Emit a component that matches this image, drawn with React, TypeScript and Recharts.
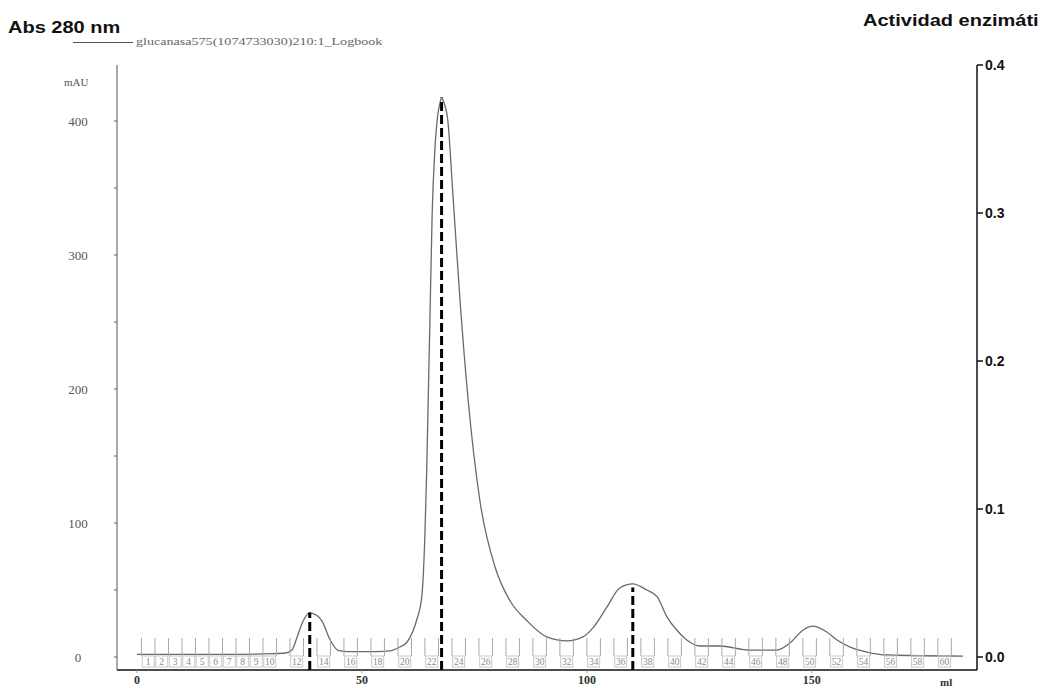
import React from "react";
import { LineChart, Line, XAxis, YAxis } from "recharts";

// elution volume (ml) and absorbance at 280 nm (mAU)
const ELUTION_ML = [
  0, 10, 20, 30, 33, 34.4, 35.6, 36.8, 38.4, 40, 41.1, 42.9, 44.7, 47, 50, 53,
  56.2, 58.4, 60, 61.3, 62.2, 63.3, 64, 64.4, 64.7, 65.1, 65.6, 66.2, 66.8,
  67.3, 67.7, 68.2, 69.1, 70.2, 71.8, 73.6, 76.2, 79.6, 82.9, 86.7, 91.1,
  95.6, 99.1, 101.3, 104.4, 107.3, 110.2, 113.3, 115.6, 117.8, 120, 122.2,
  125.1, 129.6, 136.2, 142.2, 145.1, 148, 150.2, 153.3, 155.6, 158.4, 162.2,
  166.7, 183.6,
];
const ABS_MAU = [
  2, 2, 2, 2.5, 3, 5, 15, 26, 33, 31, 27, 13, 5, 4, 4, 4,
  4.5, 7.5, 11, 19, 28, 45, 92, 140, 188, 250, 330, 378, 403,
  413, 417, 414, 400, 346, 266, 192, 117, 67, 42, 27, 15,
  12, 15, 21.6, 37, 51.5, 54.5, 50, 45, 30, 20, 12.7,
  8.2, 8.2, 5.2, 5.2, 10.4, 20, 23, 18.7, 12.7, 7.5, 3.7,
  1.5, 0.7,
];

// enzyme activity measured in three fractions
const ACT_ML = [38.4, 67.7, 110.2];
const ACT_VALUES = [0.03, 0.378, 0.047];

// fraction collector marks
const FRACTION_LABELS = [
  1, 2, 3, 4, 5, 6, 7, 8, 9, 10, 12, 14, 16, 18, 20, 22, 24, 26, 28, 30, 32,
  34, 36, 38, 40, 42, 44, 46, 48, 50, 52, 54, 56, 58, 60,
];
const FRACTION_COUNT = 60;
const FRACTION_START_ML = 1;
const FRACTION_SIZE_ML = 3;

const X_TICKS = [0, 50, 100, 150];
const ABS_TICKS = [0, 50, 100, 150, 200, 250, 300, 350, 400];
const ACT_TICKS = [0, 0.1, 0.2, 0.3, 0.4];

const X_DOMAIN = [-4.44, 186.7];
const ABS_DOMAIN = [-9.7, 441.8];
const ACT_DOMAIN = [-0.0088, 0.4];

const MAIN_AXIS_H = 16;

const chromData = ELUTION_ML.map((ml, i) => ({ ml, abs: ABS_MAU[i] }));
const activityData: any[] = [];
ACT_ML.forEach((ml, i) => {
  activityData.push({ ml, act: ACT_DOMAIN[0] });
  activityData.push({ ml, act: ACT_VALUES[i] });
  activityData.push({ ml, act: null });
});

const boundaryTicks: number[] = [];
for (let k = 0; k <= FRACTION_COUNT; k++) boundaryTicks.push(FRACTION_START_ML + k * FRACTION_SIZE_ML);
const labelTicks = FRACTION_LABELS.map((n) => FRACTION_START_ML + (n - 0.5) * FRACTION_SIZE_ML);

const serif = "'Liberation Serif', 'Times New Roman', serif";
const sans = "'Liberation Sans', Arial, sans-serif";

// the fraction axes are stacked under the ml axis, so lift their marks back into the plot
const BoundaryTick = (props: any) => {
  const { x, y } = props;
  const base = y - MAIN_AXIS_H;
  return <line x1={x} x2={x} y1={base - 32} y2={base - 14} stroke="#a8a8a8" strokeWidth={1} />;
};

const FractionLabelTick = (props: any) => {
  const { x, y, payload } = props;
  const base = y - MAIN_AXIS_H - 1;
  const n = Math.round((payload.value - FRACTION_START_ML) / FRACTION_SIZE_ML + 0.5);
  return (
    <g>
      <rect x={x - 6} y={base - 14} width={12} height={11} fill="none" stroke="#c8c8c8" strokeWidth={1} />
      <text x={x} y={base - 5} textAnchor="middle" fontFamily={serif} fontSize={9.5} fill="#8a8a8a">
        {n}
      </text>
    </g>
  );
};

const AbsTick = (props: any) => {
  const { x, y, payload } = props;
  if (payload.value % 100 !== 0) return <g />;
  return (
    <text x={x} y={y} dy="0.35em" textAnchor="middle" fontFamily={serif} fontSize={13} fill="#555">
      {payload.value}
    </text>
  );
};

export default function App() {
  return (
    <div style={{ position: "absolute", left: 0, top: 0, width: 1051, height: 688, background: "#fff" }}>
      <div style={{ position: "absolute", left: 8, top: 20, fontFamily: sans, fontWeight: "bold", fontSize: 16, lineHeight: "16px", color: "#111", transform: "scaleX(1.25)", transformOrigin: "left", whiteSpace: "nowrap" }}>
        Abs 280 nm
      </div>
      <div style={{ position: "absolute", left: 863, top: 13, fontFamily: sans, fontWeight: "bold", fontSize: 16, lineHeight: "16px", color: "#111", transform: "scaleX(1.25)", transformOrigin: "left", whiteSpace: "nowrap" }}>
        Actividad enzimáti
      </div>
      <div style={{ position: "absolute", left: 73, top: 42, width: 60, borderTop: "1px solid #555" }} />
      <div style={{ position: "absolute", left: 136, top: 36, fontFamily: serif, fontSize: 11, lineHeight: "11px", color: "#666", transform: "scaleX(1.28)", transformOrigin: "left", whiteSpace: "nowrap" }}>
        glucanasa575(1074733030)210:1_Logbook
      </div>
      <div style={{ position: "absolute", left: 64, top: 76, fontFamily: serif, fontSize: 11, lineHeight: "12px", color: "#555" }}>
        mAU
      </div>
      <div style={{ position: "absolute", left: 940, top: 676, fontFamily: serif, fontWeight: "bold", fontSize: 11, lineHeight: "12px", color: "#333" }}>
        ml
      </div>

      <LineChart width={1051} height={688} margin={{ top: 65, right: 14, bottom: 0, left: 57 }}>
        <XAxis
          xAxisId="a"
          type="number"
          dataKey="ml"
          domain={X_DOMAIN}
          allowDataOverflow
          ticks={X_TICKS}
          interval={0}
          height={MAIN_AXIS_H}
          tickSize={3}
          tickMargin={2}
          axisLine={{ stroke: "#111", strokeWidth: 1.5 }}
          tickLine={{ stroke: "#999" }}
          tick={{ fontFamily: serif, fontSize: 12, fontWeight: "bold", fill: "#333" }}
        />
        <XAxis
          xAxisId="b"
          type="number"
          dataKey="ml"
          domain={X_DOMAIN}
          allowDataOverflow
          ticks={boundaryTicks}
          interval={0}
          height={1}
          tickSize={0}
          tickMargin={0}
          axisLine={false}
          tickLine={false}
          tick={BoundaryTick}
        />
        <XAxis
          xAxisId="c"
          type="number"
          dataKey="ml"
          domain={X_DOMAIN}
          allowDataOverflow
          ticks={labelTicks}
          interval={0}
          height={1}
          tickSize={0}
          tickMargin={0}
          axisLine={false}
          tickLine={false}
          tick={FractionLabelTick}
        />
        <YAxis
          yAxisId="abs"
          orientation="left"
          width={60}
          domain={ABS_DOMAIN}
          allowDataOverflow
          ticks={ABS_TICKS}
          interval={0}
          tickSize={3}
          tickMargin={36}
          axisLine={{ stroke: "#555", strokeWidth: 1 }}
          tickLine={{ stroke: "#666" }}
          tick={AbsTick}
        />
        <YAxis
          yAxisId="act"
          orientation="right"
          width={60}
          domain={ACT_DOMAIN}
          allowDataOverflow
          ticks={ACT_TICKS}
          interval={0}
          tickSize={6}
          tickMargin={2}
          tickFormatter={(v: number) => v.toFixed(1)}
          axisLine={{ stroke: "#111", strokeWidth: 1.5 }}
          tickLine={{ stroke: "#111", strokeWidth: 1.5 }}
          tick={{ fontFamily: sans, fontSize: 14, fontWeight: "bold", fill: "#111" }}
        />
        {/* invisible series so the fraction axes get a scale */}
        <Line xAxisId="b" yAxisId="abs" data={chromData} dataKey="abs" stroke="none" dot={false} activeDot={false} isAnimationActive={false} />
        <Line xAxisId="c" yAxisId="abs" data={chromData} dataKey="abs" stroke="none" dot={false} activeDot={false} isAnimationActive={false} />
        <Line
          xAxisId="a"
          yAxisId="abs"
          data={chromData}
          dataKey="abs"
          type="monotone"
          stroke="#6a6a6a"
          strokeWidth={1.3}
          dot={false}
          activeDot={false}
          isAnimationActive={false}
        />
        <Line
          xAxisId="a"
          yAxisId="act"
          data={activityData}
          dataKey="act"
          type="linear"
          stroke="#000"
          strokeWidth={3}
          strokeDasharray="9 4"
          dot={false}
          activeDot={false}
          isAnimationActive={false}
        />
      </LineChart>
    </div>
  );
}
